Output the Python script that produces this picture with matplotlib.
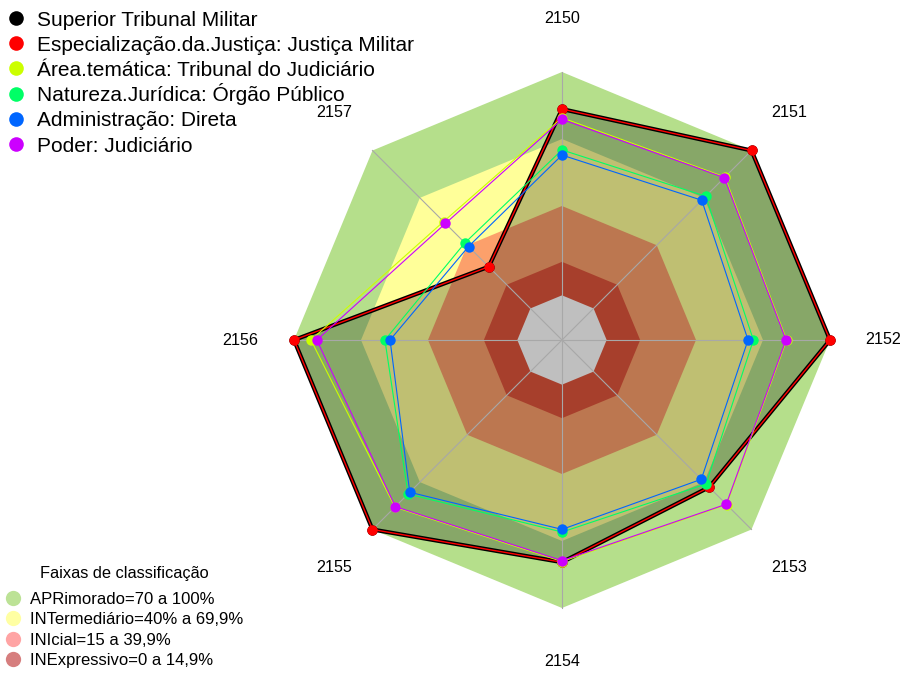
import numpy as np
import matplotlib.pyplot as plt

plt.rcParams['font.family'] = ['Liberation Sans', 'DejaVu Sans']

eixos = ["2150", "2151", "2152", "2153", "2154", "2155", "2156", "2157"]

superior = [83.4, 100, 100, 73.2, 79.5, 100, 100, 26.4]
especializacao = [83.4, 100, 100, 73.2, 79.5, 100, 100, 26.4]
area_tematica = [79.5, 83.2, 80.6, 84.2, 79.2, 85.8, 92.4, 55.0]
natureza = [65.1, 71.0, 65.7, 71.2, 66.0, 77.5, 59.3, 41.5]
administracao = [62.8, 68.5, 63.3, 68.2, 64.8, 76.4, 57.0, 39.2]
poder = [78.8, 82.8, 80.3, 84.0, 78.8, 85.5, 89.8, 53.8]

series_nomes = ["Superior Tribunal Militar",
                "Especialização.da.Justiça: Justiça Militar",
                "Área.temática: Tribunal do Judiciário",
                "Natureza.Jurídica: Órgão Público",
                "Administração: Direta",
                "Poder: Judiciário"]
series_cores = ["#000000", "#FF0000", "#CCFF00", "#00FF66", "#0066FF", "#CC00FF"]

faixas_nomes = ["APRimorado=70 a 100%", "INTermediário=40% a 69,9%",
                "INIcial=15 a 39,9%", "INExpressivo=0 a 14,9%"]
faixas_limites = [100, 70, 40, 15]
faixas_cores = ["#b5df8b", "#ffff99", "#fca06b", "#e0553c"]
faixas_legenda = ["#b5df8b", "#ffff99", "#ff9a9a", "#d27070"]

n = len(eixos)
ang = np.pi / 2 - np.arange(n) * 2 * np.pi / n


def raio(v):
    # fmsb-style: the centre ring is kept empty, values start at 1/6
    return (1 + 5 * np.asarray(v, dtype=float) / 100) / 6


def xy(v):
    r = raio(v)
    x = r * np.cos(ang)
    y = r * np.sin(ang)
    return np.append(x, x[0]), np.append(y, y[0])


W, H = 905, 673
cx, cy, R = 562, 340, 268
fig = plt.figure(figsize=(W / 100, H / 100), dpi=100)
ax = fig.add_axes([0, 0, 1, 1])
ax.set_xlim(-cx / R, (W - cx) / R)
ax.set_ylim(-(H - cy) / R, cy / R)
ax.axis("off")

# classification bands
for lim, cor in zip(faixas_limites, faixas_cores):
    x, y = xy([lim] * n)
    ax.fill(x, y, color=cor, lw=0, zorder=1)
x, y = xy([0] * n)
ax.fill(x, y, color="white", lw=0, zorder=1)

# shaded area of first series
x, y = xy(superior)
ax.fill(x, y, color="black", alpha=0.25, lw=0, zorder=2)

# spokes
for a in ang:
    ax.plot([0, np.cos(a)], [0, np.sin(a)], color="#a8a8a8", lw=0.8, zorder=3)

# series
dados = [superior, especializacao, area_tematica, natureza, administracao, poder]
for i, (vals, cor) in enumerate(zip(dados, series_cores)):
    x, y = xy(vals)
    lw = 3.0 if i == 0 else (1.0 if i == 1 else 0.8)
    ax.plot(x, y, color=cor, lw=lw, zorder=4 + i)
    ax.plot(x[:-1], y[:-1], "o", color=cor, ms=7.5, mew=0, zorder=4 + i)

# axis labels
for a, lab in zip(ang, eixos):
    ax.text(1.2 * np.cos(a), 1.2 * np.sin(a), lab, ha="center", va="center", fontsize=11.6)

# legends drawn by hand in pixel positions (figure fraction)
px = lambda x, y: (x / W, 1 - y / H)

for i, (nome, cor) in enumerate(zip(series_nomes, series_cores)):
    yy = 18 + 25.2 * i
    ax.plot(*px(16, yy), "o", color=cor, ms=10.5, mew=0, transform=fig.transFigure,
            clip_on=False, zorder=20)
    ax.text(*px(37, yy + 7.6), nome, fontsize=15, ha="left", va="baseline",
            transform=fig.transFigure, zorder=20)

ax.text(*px(124, 572 + 6), "Faixas de classificação", fontsize=11.8, ha="center",
        va="baseline", transform=fig.transFigure)
for i, (nome, cor) in enumerate(zip(faixas_nomes, faixas_legenda)):
    yy = 598 + 20.3 * i
    ax.plot(*px(13, yy), "o", markerfacecolor=cor, markeredgecolor=cor, alpha=0.9,
            ms=11, mew=0, transform=fig.transFigure, clip_on=False, zorder=20)
    ax.text(*px(30, yy + 6), nome, fontsize=12, ha="left", va="baseline",
            transform=fig.transFigure, zorder=20)

fig.savefig("out.png", dpi=100)
